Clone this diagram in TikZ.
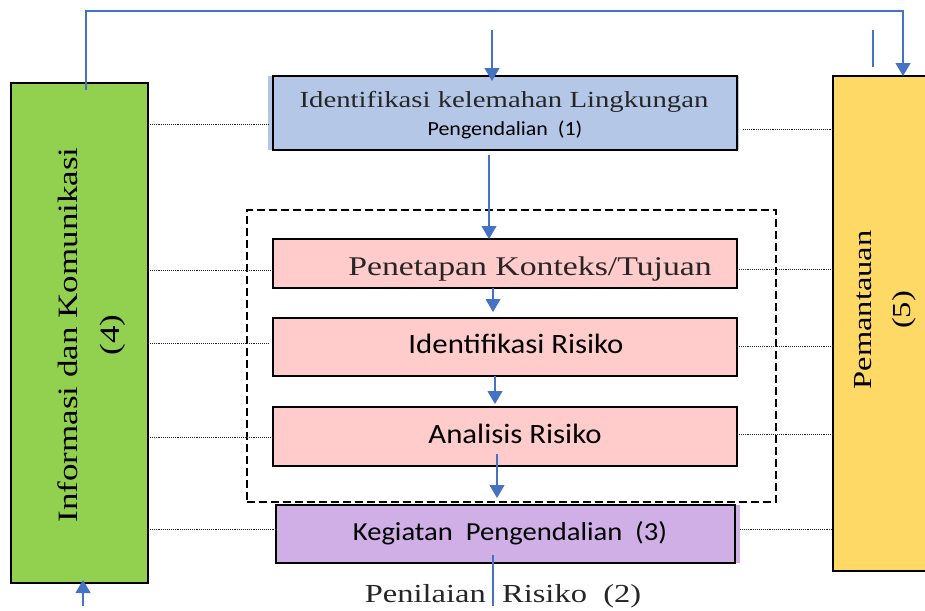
\documentclass[tikz,border=0pt]{standalone}
\usepackage{fontspec}
\setmainfont{Liberation Serif}
\newfontfamily\serifw[FakeStretch=1.25]{Liberation Serif}
\newfontfamily\sansc[FakeStretch=1.1]{Carlito}
\usetikzlibrary{arrows.meta}
\definecolor{gfill}{HTML}{92D050}
\definecolor{yfill}{HTML}{FFD966}
\definecolor{bfill}{HTML}{B4C7E7}
\definecolor{pfill}{HTML}{FFCBCB}
\definecolor{vfill}{HTML}{D0AFE6}
\definecolor{lblue}{HTML}{4472C4}
\begin{document}
\begin{tikzpicture}[x=1pt,y=-1pt,
  box/.style={draw=black,line width=1.6pt,outer sep=0pt,inner sep=0pt},
  dotline/.style={densely dotted,line width=0.9pt,black!85},
  bl/.style={draw=lblue,line width=1.1pt},
  bla/.style={draw=lblue,line width=1.1pt,-{Triangle[width=15pt,length=13pt,fill=lblue]}},
  sertxt/.style={font=\serifw,anchor=base,inner sep=0pt},
  santxt/.style={font=\sansc,anchor=base,inner sep=0pt}]
\clip (0,0) rectangle (925,610);
\useasboundingbox (0,0) rectangle (925,610);
% boxes
\node[box,fill=gfill,minimum width=137,minimum height=500] (green) at (79.5,333) {};
\node[box,fill=yfill,minimum width=97,minimum height=495] (yellow) at (881.5,323.5) {};
\fill[bfill] (268,76) rectangle (739,150);
\node[box,fill=bfill,minimum width=464,minimum height=74] (blue) at (505,113) {};
\node[draw=black,line width=2.2pt,dash pattern=on 8pt off 4pt,minimum width=529,minimum height=292,outer sep=0pt] (dash) at (511.5,356) {};
\node[box,fill=pfill,minimum width=464,minimum height=49] (pen) at (505,263.5) {};
\node[box,fill=pfill,minimum width=464,minimum height=58] (idr) at (505,347) {};
\node[box,fill=pfill,minimum width=464,minimum height=59] (ana) at (505,436.5) {};
\fill[vfill] (276,505) rectangle (740,563);
\node[box,fill=vfill,minimum width=459,minimum height=58] (pur) at (505.5,534) {};
% texts
\node[sertxt,font=\serifw\fontsize{23}{27}\selectfont,text=black!85] (t1) at (504,107) {Identifikasi kelemahan Lingkungan};
\node[santxt,font=\sansc\fontsize{20}{24}\selectfont] (t1b) at (505,135) {Pengendalian~~(1)};
\node[sertxt,font=\serifw\fontsize{27}{31}\selectfont,text=black!85] (t2) at (530,275) {Penetapan Konteks/Tujuan};
\node[santxt,font=\sansc\fontsize{28}{32}\selectfont] (t3) at (516,353) {Identifikasi Risiko};
\node[santxt,font=\sansc\fontsize{28}{32}\selectfont] (t4) at (515,443) {Analisis Risiko};
\node[santxt,font=\sansc\fontsize{26}{30}\selectfont] (t5) at (510,540) {Kegiatan~~Pengendalian~~(3)};
\node[sertxt,font=\serifw\fontsize{26}{30}\selectfont,text=black!85] (t6) at (503,602) {Penilaian~~Risiko~~(2)};
\node[rotate=90,align=center,inner sep=0pt,font=\serifw\fontsize{28}{42}\selectfont] (t7) at (92,335) {Informasi dan Komunikasi\\(4)};
\node[rotate=90,align=center,inner sep=0pt,font=\serifw\fontsize{26}{39}\selectfont] (t8) at (885,310) {Pemantauan\\(5)};
% dotted connectors
\draw[dotline] (green.east |- 0,124) -- (268,124);
\draw[dotline] (green.east |- 0,270) -- (pen.west |- 0,270);
\draw[dotline] (green.east |- 0,343) -- (268,343);
\draw[dotline] (green.east |- 0,437) -- (ana.west |- 0,437);
\draw[dotline] (green.east |- 0,529) -- (pur.west |- 0,529);
\draw[dotline] (743,129) -- (yellow.west |- 0,129);
\draw[dotline] (pen.east |- 0,269) -- (yellow.west |- 0,269);
\draw[dotline] (idr.east |- 0,346) -- (yellow.west |- 0,346);
\draw[dotline] (ana.east |- 0,434) -- (yellow.west |- 0,434);
\draw[dotline] (740,529) -- (yellow.west |- 0,529);
% blue connectors
\coordinate (fbs) at (86,90);
\coordinate (fbtop) at (903,11);
\draw[bla] (fbs) |- (fbtop) -- (yellow.north -| fbtop);
\coordinate (st) at (873,30);
\coordinate (sb) at (873,67);
\draw[bl] (st) -- (sb);
\coordinate (a1s) at (492,30);
\draw[bla] (a1s) -- ([yshift=-5pt]a1s |- blue.north);
\draw[bla] ([xshift=-16pt,yshift=-5pt]blue.south) -- ([xshift=-16pt]pen.north);
\draw[bla] ([xshift=-12pt]pen.south) -- ([xshift=-12pt,yshift=6pt]idr.north);
\draw[bla] ([xshift=-10pt]idr.south) -- ([xshift=-10pt,yshift=3pt]ana.north);
\draw[bla] ([xshift=-8pt,yshift=12pt]ana.south) -- ([xshift=-8.5pt,yshift=7pt]pur.north);
\coordinate (bend) at (493,606);
\draw[bl] ([xshift=-12.5pt,yshift=8pt]pur.south) -- (bend);
\coordinate (gbot) at (83,606);
\draw[bla] (gbot) -- ([yshift=3pt]gbot |- green.south);
\end{tikzpicture}
\end{document}
